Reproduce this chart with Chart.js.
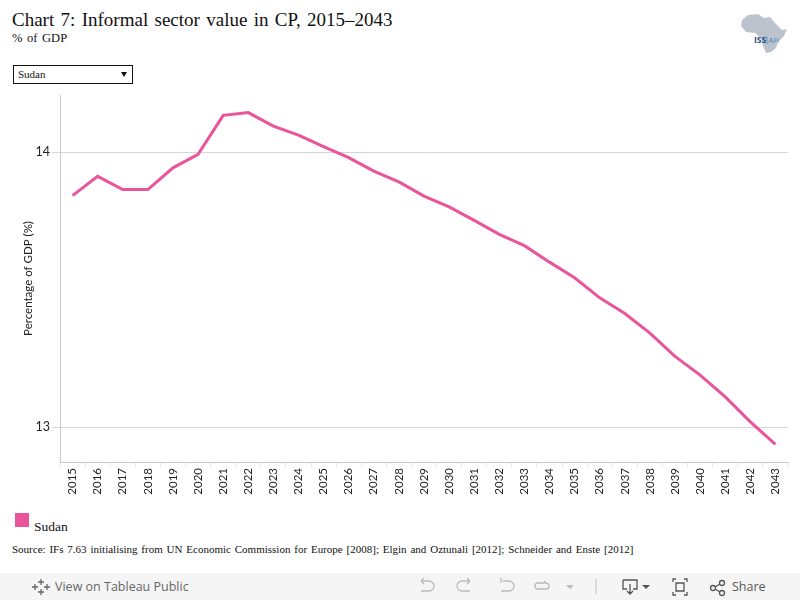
<!DOCTYPE html>
<html><head><meta charset="utf-8">
<script src="https://cdn.jsdelivr.net/npm/chart.js@4"></script>
<style>
body{margin:0;width:800px;height:600px;position:relative;background:#fff;overflow:hidden;font-family:"Liberation Serif","Times New Roman",serif;color:#111}
.abs{position:absolute;white-space:nowrap}
#title{left:12px;top:9px;font-size:19px;line-height:22px;word-spacing:1.6px}
#sub{left:12px;top:31px;font-size:12.5px;line-height:14px;word-spacing:1.5px}
#dd{left:13px;top:65px;width:118px;height:17px;border:1px solid #111;font-size:11px;line-height:17px}
#dd span{position:absolute;left:4px;top:0}
#dd i{position:absolute;right:5px;top:6px;width:0;height:0;border-left:3.5px solid transparent;border-right:3.5px solid transparent;border-top:5px solid #111}
#legsq{left:15px;top:513px;width:14px;height:14px;background:#e9549b}
#legtx{left:34px;top:519px;font-size:13.5px;line-height:16px}
#src{left:12px;top:543px;font-size:11px;line-height:13px;word-spacing:1.1px}
#bar{left:0;top:573px;width:800px;height:27px;background:#f5f5f5}
#bar .t{position:absolute;font-family:"Open Sans",sans-serif;font-size:12.5px;color:#666;top:5px;line-height:17px}
#wrap{left:0;top:0;width:800px;height:500px}
</style></head><body>
<div class="abs" id="title">Chart 7: Informal sector value in CP, 2015–2043</div>
<div class="abs" id="sub">% of GDP</div>
<div class="abs" id="dd"><span>Sudan</span><i></i></div>
<svg class="abs" style="left:736px;top:10px" width="56" height="46" viewBox="736 10 56 46">
<polygon fill="#bcc3cd" points="742,20 748,15 758,14 764,18 770,17 776,24 782,30 787,29 784,36 778,42 776,48 771,52 766,53 763,46 761,38 755,33 746,32 741,26"/>
<text x="754" y="43" font-family="Open Sans,sans-serif" font-size="8.5" font-weight="bold" fill="#2c4e80">ISS</text>
<rect x="766.5" y="36" width="0.8" height="8" fill="#4a8fc6"/>
<text x="768.5" y="43" font-family="Open Sans,sans-serif" font-size="7.5" fill="#4a8fc6">AFI</text>
</svg>
<div class="abs" id="wrap"><canvas id="c" width="800" height="500" style="width:800px;height:500px"></canvas></div>
<div class="abs" id="legsq"></div>
<div class="abs" id="legtx">Sudan</div>
<div class="abs" id="src">Source: IFs 7.63 initialising from UN Economic Commission for Europe [2008]; Elgin and Oztunali [2012]; Schneider and Enste [2012]</div>
<div class="abs" id="bar">
<svg style="position:absolute;left:32px;top:5px" width="18" height="18" viewBox="0 0 18 18" stroke="#666" stroke-width="1.3" fill="none">
<path d="M9 1v6M6 4h6M9 11v6M6 14h6M3 6v6M0 9h6M15 6v6M12 9h6"/></svg>
<div class="t" style="left:55px">View on Tableau Public</div>
<svg style="position:absolute;left:415px;top:4px" width="380" height="20" viewBox="415 577 380 20" fill="none" stroke="#bbb" stroke-width="1.3">
<path d="M421 581h8a5 5 0 0 1 0 10h-8M421 581l3-3M421 581l3 3"/>
<path d="M470 581h-8a5 5 0 0 0 0 10h8M470 581l-3-3M470 581l-3 3"/>
<path d="M501 578v5M503 581h6a5 5 0 0 1 0 10h-8"/>
<path d="M538 583h8a3 3 0 0 1 0 6h-8a3 3 0 0 1 0-6zM546 583l-2-2"/>
<path d="M566 585l4 4 4-4z" fill="#bbb" stroke="none"/>
<path d="M596 579v15" stroke="#ccc"/>
<path d="M623 580h14v9h-4M627 589h-4v-9M630 584v10M627 591l3 3 3-3" stroke="#555"/>
<path d="M642 585l4 4 4-4z" fill="#555" stroke="none"/>
<path d="M673 582v-3h3M684 579h3v3M687 592v3h-3M676 595h-3v-3M676 583h8v8h-8z" stroke="#555"/>
<circle cx="713" cy="588" r="2.5" stroke="#555"/><circle cx="722" cy="583" r="2.5" stroke="#555"/><circle cx="722" cy="593" r="2.5" stroke="#555"/>
<path d="M715 587l5-3M715 589l5 3" stroke="#555"/>
</svg>
<div class="t" style="left:732px;color:#555">Share</div>
</div>
<script>
const years = ["2015","2016","2017","2018","2019","2020","2021","2022","2023","2024","2025","2026","2027","2028","2029","2030","2031","2032","2033","2034","2035","2036","2037","2038","2039","2040","2041","2042","2043"];
const sudan = [13.843,13.913,13.865,13.865,13.944,13.993,14.135,14.145,14.096,14.063,14.021,13.981,13.932,13.893,13.841,13.802,13.753,13.702,13.661,13.601,13.544,13.471,13.414,13.343,13.258,13.190,13.111,13.020,12.938];
const yTicks = [13,14];
const yMin = 12.874, yMax = 14.209;

new Chart(document.getElementById('c'), {
  type: 'line',
  data: { labels: years, datasets: [{ label: 'Sudan', data: sudan, borderColor: '#e9549b', backgroundColor: '#e9549b', borderWidth: 3, pointRadius: 0, tension: 0, fill: false }] },
  options: {
    responsive: false, animation: false,
    layout: { padding: { top: 95, right: 12, left: 0, bottom: 0 } },
    plugins: { legend: { display: false }, title: { display: false }, tooltip: { enabled: false } },
    scales: {
      x: {
        type: 'category', offset: true,
        grid: { drawOnChartArea: false, offset: true, tickLength: 5, color: '#e3e3e3' },
        border: { color: '#c8c8c8' },
        ticks: { autoSkip: false, minRotation: 90, maxRotation: 90, padding: 1, color: '#222', font: { family: 'Lato', size: 11.5 } },
        afterFit: s => { s.height = 38; }
      },
      y: {
        min: yMin, max: yMax,
        afterBuildTicks: s => { s.ticks = yTicks.map(v => ({ value: v })); },
        grid: { color: '#d6d6d6', tickLength: 8 },
        border: { color: '#c8c8c8' },
        ticks: { padding: 2, color: '#222', font: { family: 'Lato', size: 12.5 } },
        title: { display: true, text: 'Percentage of GDP (%)', color: '#222', font: { family: 'Lato', size: 11.5 }, padding: { top: 21, bottom: 0 } },
        afterFit: s => { s.width = 60; }
      }
    }
  }
});
</script>
</body></html>
